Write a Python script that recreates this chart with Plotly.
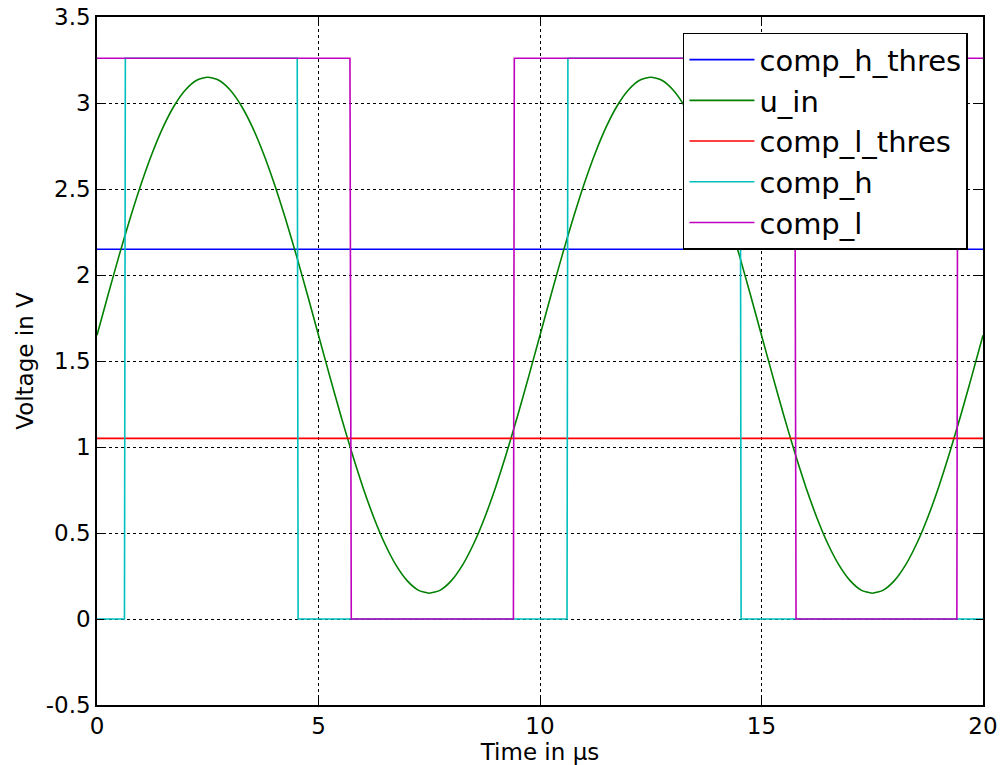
import plotly.graph_objects as go

# Input sine (read at 0.25 µs steps)
t_in = [i * 0.25 for i in range(81)]
u_in = [1.65, 1.885, 2.114, 2.331, 2.532, 2.711, 2.864, 2.987, 3.077, 3.132,
        3.15, 3.132, 3.077, 2.987, 2.864, 2.711, 2.532, 2.331, 2.114, 1.885,
        1.65, 1.415, 1.186, 0.969, 0.768, 0.589, 0.436, 0.313, 0.223, 0.168,
        0.15, 0.168, 0.223, 0.313, 0.436, 0.589, 0.768, 0.969, 1.186, 1.415,
        1.65, 1.885, 2.114, 2.331, 2.532, 2.711, 2.864, 2.987, 3.077, 3.132,
        3.15, 3.132, 3.077, 2.987, 2.864, 2.711, 2.532, 2.331, 2.114, 1.885,
        1.65, 1.415, 1.186, 0.969, 0.768, 0.589, 0.436, 0.313, 0.223, 0.168,
        0.15, 0.168, 0.223, 0.313, 0.436, 0.589, 0.768, 0.969, 1.186, 1.415,
        1.65]

# Thresholds
t_thr = [0, 20]
comp_h_thres = [2.15, 2.15]
comp_l_thres = [1.05, 1.05]

# Comparator outputs
t_comp_h = [0, 0.62, 0.64, 4.52, 4.54, 10.61, 10.63, 14.52, 14.54, 20]
comp_h = [0, 0, 3.26, 3.26, 0, 0, 3.26, 3.26, 0, 0]

t_comp_l = [0, 5.71, 5.74, 9.40, 9.42, 15.75, 15.78, 19.41, 19.43, 20]
comp_l = [3.26, 3.26, 0, 0, 3.26, 3.26, 0, 0, 3.26, 3.26]

x_ticks = [0, 5, 10, 15, 20]
y_ticks = [-0.5, 0, 0.5, 1, 1.5, 2, 2.5, 3, 3.5]
y_tick_text = ["-0.5", "0", "0.5", "1", "1.5", "2", "2.5", "3", "3.5"]

fig = go.Figure()
lw = 1.6
fig.add_trace(go.Scatter(x=t_thr, y=comp_h_thres, mode="lines", name="comp_h_thres",
                         line=dict(color="#0000ff", width=lw)))
fig.add_trace(go.Scatter(x=t_in, y=u_in, mode="lines", name="u_in",
                         line=dict(color="#008000", width=lw, shape="spline", smoothing=0.6)))
fig.add_trace(go.Scatter(x=t_thr, y=comp_l_thres, mode="lines", name="comp_l_thres",
                         line=dict(color="#ff0000", width=lw)))
fig.add_trace(go.Scatter(x=t_comp_h, y=comp_h, mode="lines", name="comp_h",
                         line=dict(color="#00bfbf", width=lw)))
fig.add_trace(go.Scatter(x=t_comp_l, y=comp_l, mode="lines", name="comp_l",
                         line=dict(color="#bf00bf", width=lw)))

font_family = "DejaVu Sans"
axis_common = dict(
    showline=True, linecolor="black", linewidth=1.5, mirror="ticks",
    ticks="inside", ticklen=7, tickcolor="black", tickwidth=1,
    showgrid=True, gridcolor="black", griddash="dot", gridwidth=1,
    zeroline=False, automargin=False, ticklabeloverflow="allow",
    tickfont=dict(family=font_family, size=23, color="black"),
)

fig.update_layout(
    width=1003, height=765,
    margin=dict(l=97, r=20, t=17, b=60),
    paper_bgcolor="white", plot_bgcolor="white",
    font=dict(family=font_family, color="black"),
    showlegend=True,
    hovermode=False,
    legend=dict(
        x=0.983, y=0.977, xanchor="right", yanchor="top",
        bgcolor="white", bordercolor="black", borderwidth=1.5,
        font=dict(family=font_family, size=29, color="black"),
        tracegroupgap=0, itemwidth=65,
    ),
    xaxis=dict(range=[0, 20], tickvals=x_ticks, ticktext=[str(v) for v in x_ticks],
               title=dict(text="Time in µs", font=dict(family=font_family, size=23), standoff=2),
               **axis_common),
    yaxis=dict(range=[-0.5, 3.5], tickvals=y_ticks, ticktext=y_tick_text,
               title=dict(text="Voltage in V", font=dict(family=font_family, size=23), standoff=6),
               **axis_common),
)

fig.write_html(
    "out.html",
    config={"displayModeBar": False},
    post_script="document.body.style.margin='0';document.body.style.overflow='hidden';",
)
